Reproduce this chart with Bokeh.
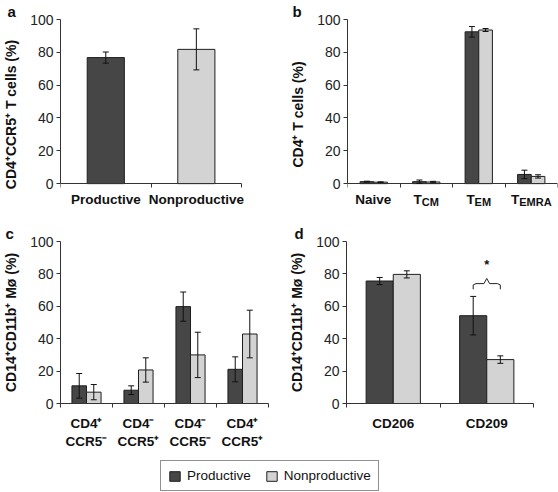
from bokeh.plotting import figure
from bokeh.models import (Range1d, FixedTicker, Whisker, TeeHead, ColumnDataSource,
                          Label, Legend, LegendItem)
from bokeh.layouts import column, row
from bokeh.embed import file_html
from bokeh.resources import INLINE

FONT = "Liberation Sans"
DARK = "#464646"
LIGHT = "#d3d3d3"
EDGE = "#1e1e1e"
AXC = "#333333"

# ---------------- data ----------------
series = ["Productive", "Nonproductive"]
y_ticks = [0, 20, 40, 60, 80, 100]

a_cats = ["Productive", "Nonproductive"]
a_vals = [76.8, 81.8]
a_errs = [3.4, 12.5]

b_main = ["Naive", "T", "T", "T"]
b_sub = ["", "CM", "EM", "EMRA"]
b_prod = [1.2, 1.2, 92.5, 5.6]
b_prod_err = [0.3, 1.0, 3.2, 2.6]
b_non = [0.9, 1.0, 93.6, 4.4]
b_non_err = [0.2, 0.4, 0.9, 1.0]

c_cats = ["CD4\u207a\nCCR5\u207b", "CD4\u207b\nCCR5\u207a", "CD4\u207b\nCCR5\u207b", "CD4\u207a\nCCR5\u207a"]
c_prod = [10.9, 8.2, 59.8, 21.1]
c_prod_err = [7.6, 2.7, 9.0, 7.7]
c_non = [7.0, 20.7, 30.0, 42.9]
c_non_err = [4.7, 7.5, 14.0, 14.7]

d_cats = ["CD206", "CD209"]
d_prod = [75.6, 54.2]
d_prod_err = [2.2, 11.9]
d_non = [79.7, 27.1]
d_non_err = [2.2, 2.3]
d_sig_level = 74.0

# approximate bold glyph advance widths (em) for centring composite labels
BOLD_W = {"T": 0.611, "C": 0.722, "M": 0.833, "E": 0.667, "R": 0.722, "A": 0.722}

# top row: frame extended below the zero line so the category labels live inside it
TOP_EXTRA = 26   # px below zero line
TOP_PLOT = 165   # px for 0..100
top_ymin = -100.0 * TOP_EXTRA / TOP_PLOT


def make_panel(width, height, ncat, left, right, top, bottom, ylabel, labels,
               ymin=0.0, hide_labels=False, xstandoff=8, xpad=0.0):
    p = figure(width=width, height=height, x_range=Range1d(0, ncat + xpad),
               y_range=Range1d(ymin, 100),
               output_backend="svg", toolbar_location=None,
               min_border_left=left, min_border_right=right,
               min_border_top=top, min_border_bottom=bottom)
    p.grid.visible = False
    p.outline_line_color = None
    yax = p.yaxis[0]
    yax.ticker = FixedTicker(ticks=y_ticks)
    yax.bounds = (0, 100)
    yax.axis_label = ylabel
    yax.axis_label_text_font = FONT
    yax.axis_label_text_font_style = "bold"
    yax.axis_label_text_font_size = "14px"
    yax.axis_label_text_color = "#111111"
    yax.axis_label_standoff = 8
    yax.major_label_text_font = FONT
    yax.major_label_text_font_size = "14px"
    yax.major_label_text_color = "#222222"
    yax.major_label_standoff = 3
    yax.major_tick_in = 0
    yax.major_tick_out = 4
    yax.minor_tick_in = 0
    yax.minor_tick_out = 0
    yax.axis_line_color = AXC
    yax.major_tick_line_color = AXC

    centers = [i + 0.5 for i in range(ncat)]
    xax = p.xaxis[0]
    xax.ticker = FixedTicker(ticks=centers, minor_ticks=list(range(ncat + 1)))
    xax.bounds = (0, ncat)
    xax.major_label_overrides = {c: lab for c, lab in zip(centers, labels)}
    xax.major_label_text_font = FONT
    xax.major_label_text_font_style = "bold"
    xax.major_label_text_font_size = "13.5px"
    xax.major_label_text_color = "#111111"
    xax.major_label_standoff = xstandoff
    xax.major_tick_in = 0
    xax.major_tick_out = 0
    xax.minor_tick_in = 0
    xax.minor_tick_out = 4
    xax.axis_line_color = AXC
    xax.minor_tick_line_color = AXC
    if ymin < 0:
        xax.fixed_location = 0
    if hide_labels:
        xax.major_label_text_font_size = "1px"
        xax.major_label_standoff = 0
    return p, centers


def add_bars(p, xs, vals, errs, width, color):
    src = ColumnDataSource(dict(x=xs, top=vals,
                                upper=[v + e for v, e in zip(vals, errs)],
                                lower=[v - e for v, e in zip(vals, errs)]))
    r = p.vbar(x="x", top="top", width=width, source=src, fill_color=color,
               line_color=EDGE, line_width=1)
    wh = Whisker(base="x", upper="upper", lower="lower", source=src,
                 line_color="#111111", line_width=1, level="overlay",
                 upper_head=TeeHead(size=6, line_color="#111111", line_width=1),
                 lower_head=TeeHead(size=6, line_color="#111111", line_width=1))
    p.add_layout(wh)
    return r


def letter(p, txt, xoff, standoff):
    t = p.title
    t.text = txt
    t.align = "left"
    t.offset = xoff
    t.standoff = standoff
    t.text_font = FONT
    t.text_font_style = "bold"
    t.text_font_size = "15px"
    t.text_color = "#111111"


# ---------------- panel a ----------------
pa, ca = make_panel(279, 210, 2, 60, 27, 18, 27 - TOP_EXTRA, "CD4\u207aCCR5\u207a T cells (%)",
                    a_cats, ymin=top_ymin, xstandoff=4, xpad=0.12)
add_bars(pa, ca[:1], a_vals[:1], a_errs[:1], 0.41, DARK)
add_bars(pa, ca[1:], a_vals[1:], a_errs[1:], 0.41, LIGHT)
letter(pa, "a", -53, 0)

# ---------------- panel b ----------------
wb = 0.26
pb, cb = make_panel(279, 210, 4, 68, 1, 18, 27 - TOP_EXTRA, "CD4\u207a T cells (%)", [" "] * 4,
                    ymin=top_ymin, hide_labels=True)
add_bars(pb, [c - wb / 2 for c in cb], b_prod, b_prod_err, wb, DARK)
add_bars(pb, [c + wb / 2 for c in cb], b_non, b_non_err, wb, LIGHT)
letter(pb, "b", -55, 0)
MAIN_FS, SUB_FS = 13.5, 11.0
for c, m, s in zip(cb, b_main, b_sub):
    wm = 37.0 if m == "Naive" else BOLD_W[m] * MAIN_FS
    ws = sum(BOLD_W[ch] for ch in s) * SUB_FS
    x0 = -(wm + ws) / 2
    pb.add_layout(Label(x=c, y=0, y_offset=-8, text=m,
                        x_offset=x0, text_align="left", text_baseline="top",
                        text_font=FONT, text_font_style="bold", text_font_size="13.5px",
                        text_color="#111111"))
    if s:
        pb.add_layout(Label(x=c, y=0, y_offset=-12.5, text=s,
                            x_offset=x0 + wm, text_align="left", text_baseline="top",
                            text_font=FONT, text_font_style="bold", text_font_size="11px",
                            text_color="#111111"))

# ---------------- panel c ----------------
wc = 0.28
pc, cc = make_panel(279, 245, 4, 60, 11, 28, 51, "CD14\u207aCD11b\u207a M\u00f8 (%)", c_cats)
add_bars(pc, [c - wc / 2 for c in cc], c_prod, c_prod_err, wc, DARK)
add_bars(pc, [c + wc / 2 for c in cc], c_non, c_non_err, wc, LIGHT)
letter(pc, "c", -55, 0)

# ---------------- panel d ----------------
wd = 0.29
pd_, cd = make_panel(279, 245, 2, 67, 25, 31, 52, "CD14\u207aCD11b\u207a M\u00f8 (%)", d_cats)
add_bars(pd_, [c - wd / 2 for c in cd], d_prod, d_prod_err, wd, DARK)
add_bars(pd_, [c + wd / 2 for c in cd], d_non, d_non_err, wd, LIGHT)
letter(pd_, "d", -52, 0)
xp, xn, xm = cd[1] - wd / 2, cd[1] + wd / 2, cd[1]
L = d_sig_level
pd_.line(x=[xp, xp, xp + 0.03, xm - 0.03, xm, xm + 0.03, xn - 0.03, xn, xn],
         y=[L - 3.5, L - 0.8, L, L, L + 3.2, L, L, L - 0.8, L - 3.5],
         line_color="#222222", line_width=1)
pd_.add_layout(Label(x=xm, y=L + 7, text="*", text_align="center", text_baseline="bottom",
                     text_font=FONT, text_font_style="bold", text_font_size="13px",
                     text_color="#111111"))

# ---------------- legend ----------------
pl = figure(width=558, height=37, x_range=Range1d(0, 1), y_range=Range1d(0, 1),
            output_backend="svg", toolbar_location=None, x_axis_type=None, y_axis_type=None,
            min_border=0)
pl.grid.visible = False
pl.outline_line_color = None
# off-screen proxies so the legend has swatches to draw
r1 = pl.vbar(x=[-5], top=[-5], width=0.1, fill_color=DARK, line_color=EDGE)
r2 = pl.vbar(x=[-5], top=[-5], width=0.1, fill_color=LIGHT, line_color=EDGE)
leg = Legend(items=[LegendItem(label=series[0], renderers=[r1]),
                    LegendItem(label=series[1], renderers=[r2])],
             orientation="horizontal", location=(160, 1), glyph_width=13, glyph_height=12,
             label_standoff=6, spacing=14, padding=7, margin=0,
             border_line_color="#222222", border_line_width=1,
             label_text_font=FONT, label_text_font_size="13.5px", label_text_color="#111111",
             label_height=14)
pl.add_layout(leg)

layout = column(row(pa, pb), row(pc, pd_), pl)
open("out.html", "w").write(file_html(layout, INLINE))
